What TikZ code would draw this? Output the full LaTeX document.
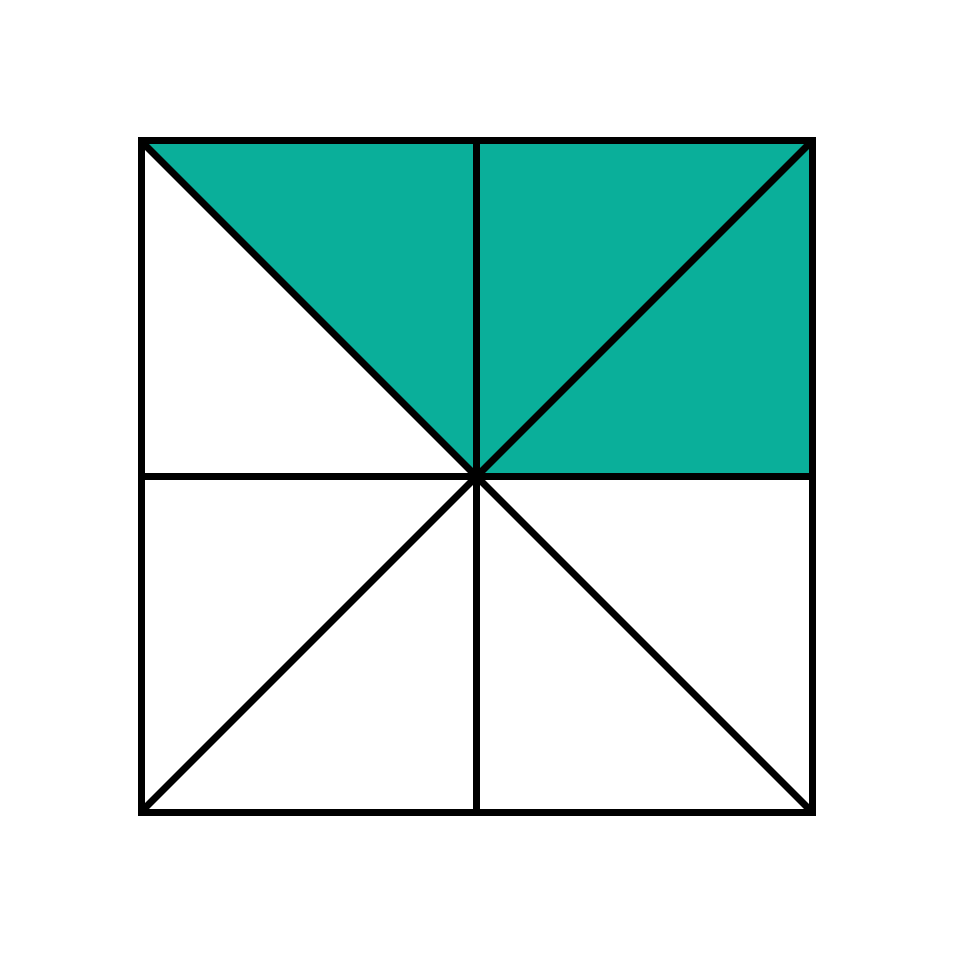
\documentclass[tikz,border=0pt]{standalone}
\definecolor{teal1}{HTML}{0AAF9A}
\begin{document}
\begin{tikzpicture}[x=0.01cm,y=-0.01cm, edge/.style={draw=black,line width=7*0.01cm,line join=miter}]
\useasboundingbox (0,0) rectangle (958,958);
\coordinate (tl) at (141,141);
\coordinate (tr) at (812,141);
\coordinate (bl) at (141,812);
\coordinate (br) at (812,812);
\coordinate (c) at (476.5,476.5);
\coordinate (tm) at (476.5,141);
\coordinate (bm) at (476.5,812);
\coordinate (lm) at (141,476.5);
\coordinate (rm) at (812,476.5);
\fill[teal1] (tl) -- (tm) -- (c) -- cycle;
\fill[teal1] (tm) -- (tr) -- (rm) -- (c) -- cycle;
\draw[edge] (tl) -- (tr) -- (br) -- (bl) -- cycle;
\draw[edge] (tm) -- (bm);
\draw[edge] (lm) -- (rm);
\draw[edge] (tl) -- (br);
\draw[edge] (tr) -- (bl);
\end{tikzpicture}
\end{document}
